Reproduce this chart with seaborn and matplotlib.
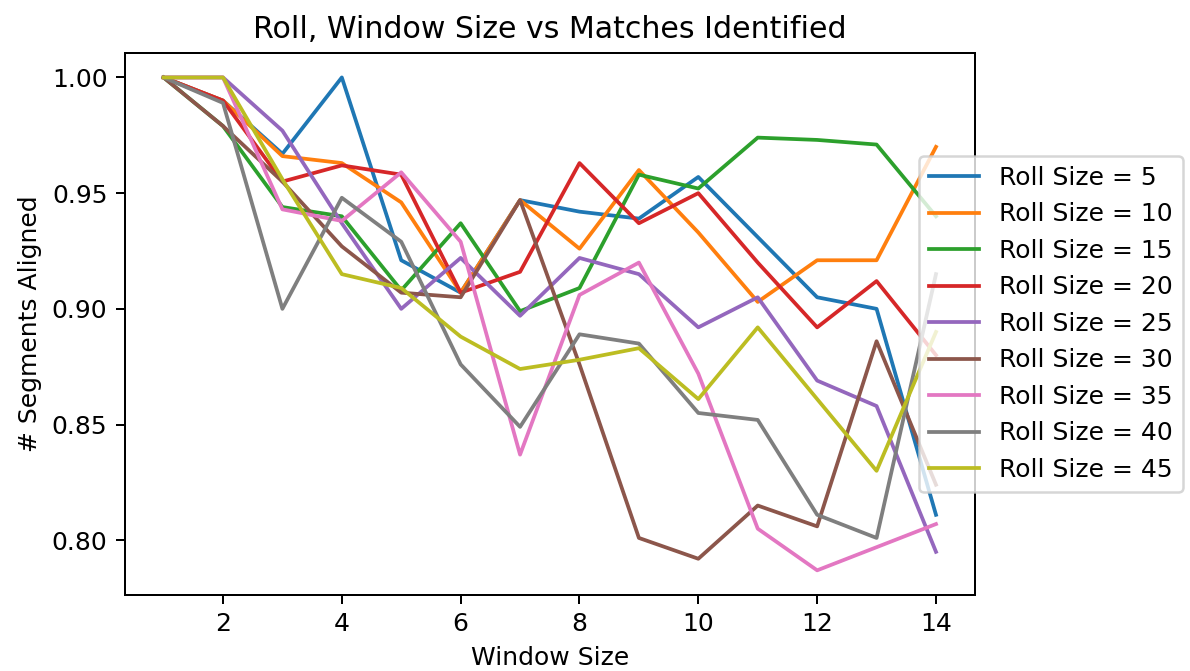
import pandas as pd
import matplotlib
matplotlib.use("Agg")
import matplotlib.pyplot as plt
import seaborn as sns

window_sizes = list(range(1, 15))
roll_sizes = [5, 10, 15, 20, 25, 30, 35, 40, 45]

roll_5 = [1.00, 0.990, 0.967, 1.000, 0.921, 0.907, 0.947, 0.942, 0.939, 0.957, 0.931, 0.905, 0.900, 0.811]
roll_10 = [1.00, 0.990, 0.966, 0.963, 0.946, 0.907, 0.947, 0.926, 0.960, 0.933, 0.903, 0.921, 0.921, 0.970]
roll_15 = [1.00, 0.979, 0.944, 0.940, 0.908, 0.937, 0.899, 0.909, 0.958, 0.952, 0.974, 0.973, 0.971, 0.940]
roll_20 = [1.00, 0.990, 0.955, 0.962, 0.958, 0.907, 0.916, 0.963, 0.937, 0.950, 0.920, 0.892, 0.912, 0.880]
roll_25 = [1.00, 1.000, 0.977, 0.937, 0.900, 0.922, 0.897, 0.922, 0.915, 0.892, 0.905, 0.869, 0.858, 0.795]
roll_30 = [1.00, 0.979, 0.955, 0.927, 0.907, 0.905, 0.947, 0.876, 0.801, 0.792, 0.815, 0.806, 0.886, 0.824]
roll_35 = [1.00, 1.000, 0.943, 0.938, 0.959, 0.929, 0.837, 0.906, 0.920, 0.872, 0.805, 0.787, 0.797, 0.807]
roll_40 = [1.00, 0.989, 0.900, 0.948, 0.929, 0.876, 0.849, 0.889, 0.885, 0.855, 0.852, 0.811, 0.801, 0.915]
roll_45 = [1.00, 1.000, 0.956, 0.915, 0.909, 0.888, 0.874, 0.878, 0.883, 0.861, 0.892, 0.861, 0.830, 0.890]

series = [roll_5, roll_10, roll_15, roll_20, roll_25, roll_30, roll_35, roll_40, roll_45]

rows = []
for r, vals in zip(roll_sizes, series):
    for w, v in zip(window_sizes, vals):
        rows.append({"window": w, "aligned": v, "roll": f"Roll Size = {r}"})
df = pd.DataFrame(rows)

fig = plt.figure(figsize=(1190 / 180, 671 / 180), dpi=180)
ax = fig.add_axes([0.105, 0.1133, 0.714, 0.808])

sns.lineplot(data=df, x="window", y="aligned", hue="roll", palette="tab10",
             errorbar=None, linewidth=1.5, ax=ax)

ax.set_title("Roll, Window Size vs Matches Identified")
ax.set_xlabel("Window Size")
ax.set_ylabel("# Segments Aligned")
sns.move_legend(ax, "center left", bbox_to_anchor=(0.92, 0.5), title=None, frameon=True)

fig.savefig("out.png", dpi=180)
